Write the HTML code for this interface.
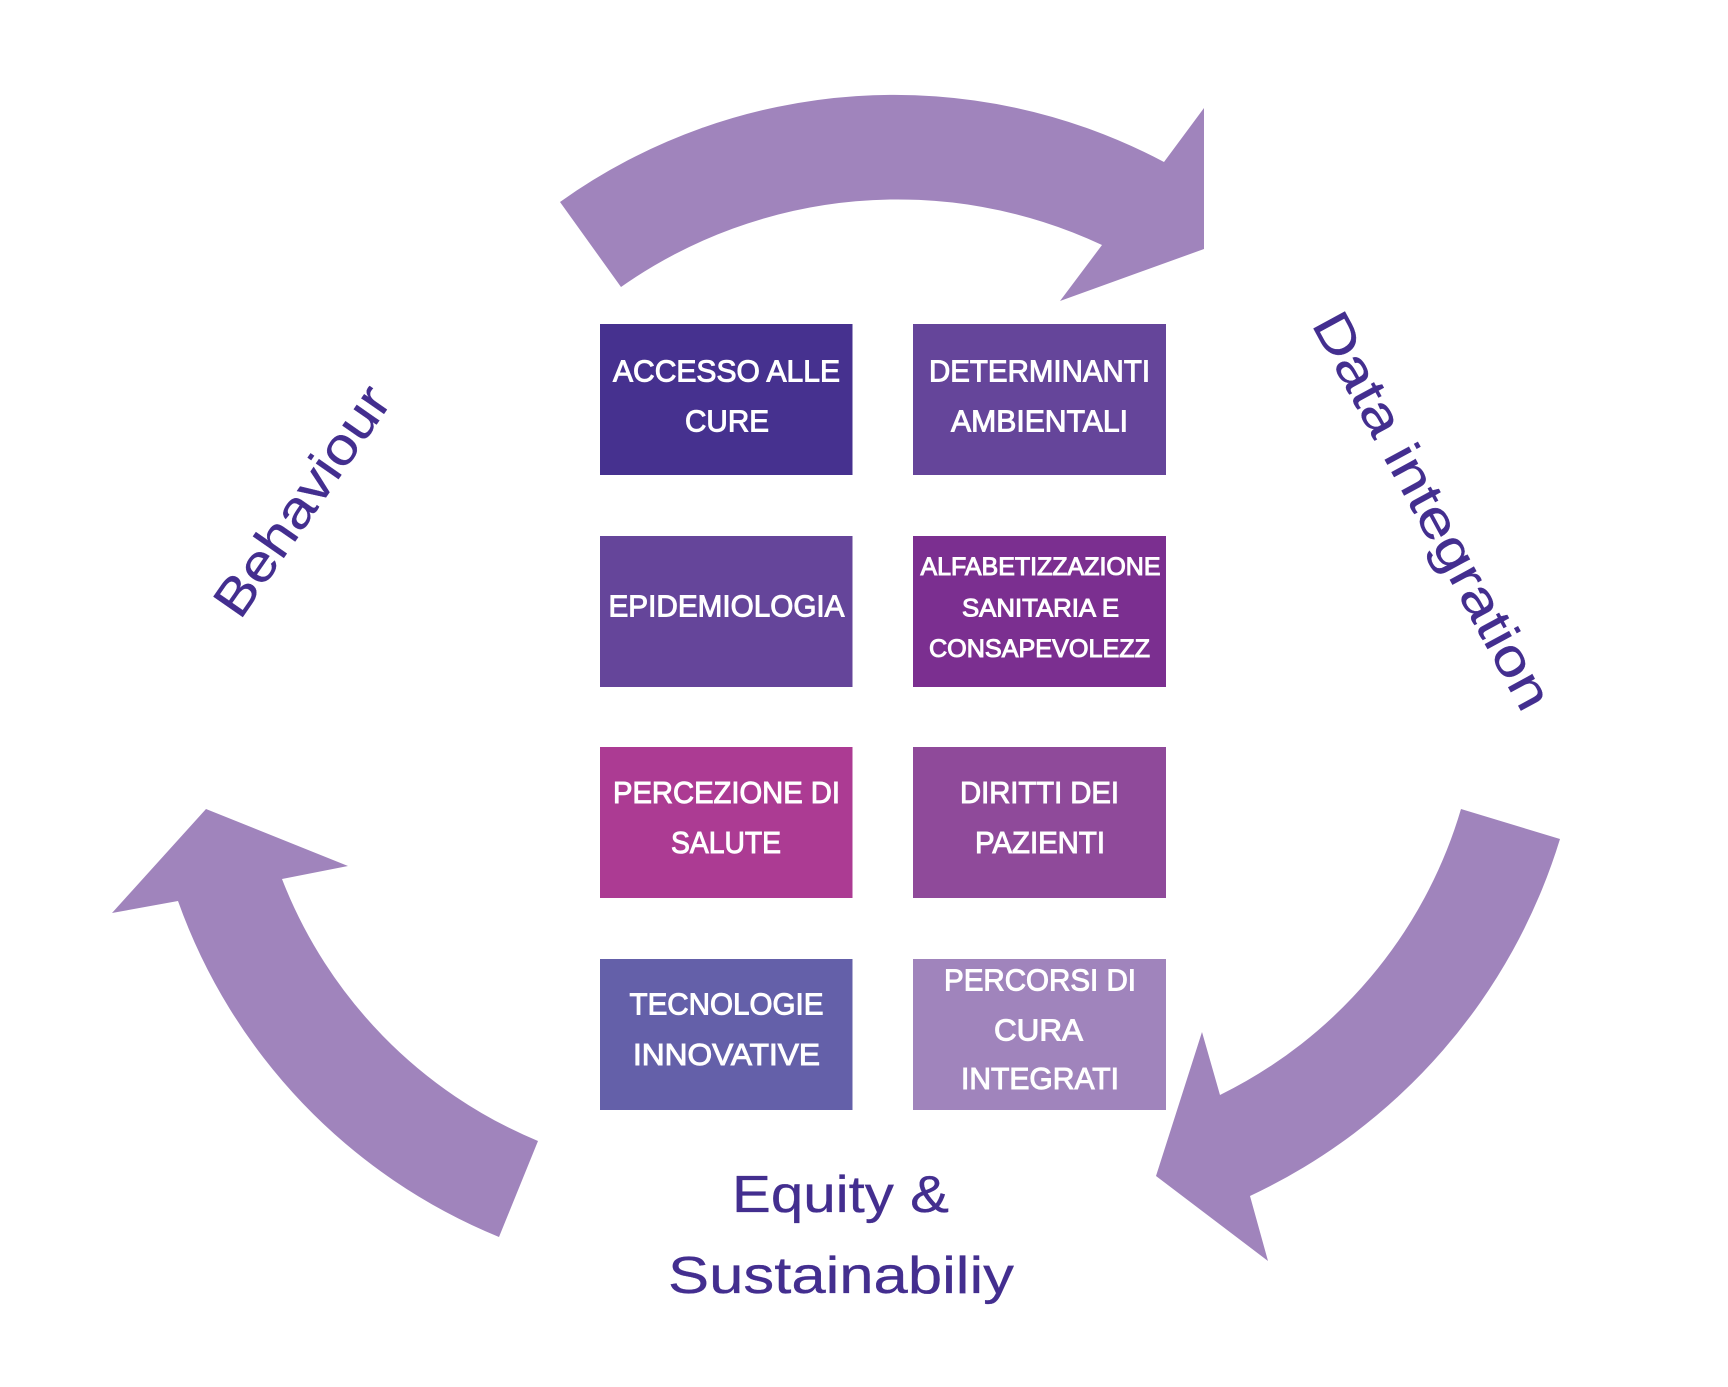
<!DOCTYPE html>
<html>
<head>
<meta charset="utf-8">
<style>
html,body{margin:0;padding:0;background:#fff;}
svg{display:block;}
.b{font-family:"Liberation Sans",sans-serif;font-size:31px;fill:#fff;stroke:#fff;stroke-width:1px;}
.s{font-size:25px;}
.l{font-family:"Liberation Sans",sans-serif;font-size:52px;fill:#432E8F;stroke:#432E8F;stroke-width:.3px;}
</style>
</head>
<body>
<svg width="1728" height="1387" viewBox="0 0 1728 1387" xmlns="http://www.w3.org/2000/svg">
<rect width="1728" height="1387" fill="#fff"/>
<g fill="#A084BC">
<path d="M560 202 A575 575 0 0 1 1164 162 L1204 108 L1204 249 L1060 301 L1102 245 A481 481 0 0 0 621 287 Z"/>
<path d="M1560 839 A582 582 0 0 1 1250 1196 L1268 1261 L1156 1176 L1202 1032 L1220 1095 A465 465 0 0 0 1461 809 Z"/>
<path d="M499 1237 A569 569 0 0 1 178 901 L112 913 L206 809 L348 866 L282 879 A466 466 0 0 0 538 1141 Z"/>
</g>
<rect x="600" y="324" width="252.500" height="151" fill="#46318F"/>
<rect x="913" y="324" width="253" height="151" fill="#65459A"/>
<rect x="600" y="536" width="252.500" height="151" fill="#65459A"/>
<rect x="913" y="536" width="253" height="151" fill="#7B2F90"/>
<rect x="600" y="747" width="252.500" height="151" fill="#AC3B93"/>
<rect x="913" y="747" width="253" height="151" fill="#8F4A9A"/>
<rect x="600" y="959" width="252.500" height="151" fill="#6460A9"/>
<rect x="913" y="959" width="253" height="151" fill="#A084BC"/>

<text class="b" x="613" y="381.500" textLength="227" lengthAdjust="spacingAndGlyphs">ACCESSO ALLE</text>
<text class="b" x="685" y="431.500" textLength="84" lengthAdjust="spacingAndGlyphs">CURE</text>
<text class="b" x="929" y="381.500" textLength="221" lengthAdjust="spacingAndGlyphs">DETERMINANTI</text>
<text class="b" x="951" y="431.500" textLength="177" lengthAdjust="spacingAndGlyphs">AMBIENTALI</text>
<text class="b" x="608.500" y="616.500" textLength="236" lengthAdjust="spacingAndGlyphs">EPIDEMIOLOGIA</text>
<text class="b s" x="920.500" y="575" textLength="240" lengthAdjust="spacingAndGlyphs">ALFABETIZZAZIONE</text>
<text class="b s" x="962" y="616.500" textLength="157" lengthAdjust="spacingAndGlyphs">SANITARIA E</text>
<text class="b s" x="929" y="657" textLength="221" lengthAdjust="spacingAndGlyphs">CONSAPEVOLEZZ</text>
<text class="b" x="613" y="803" textLength="227" lengthAdjust="spacingAndGlyphs">PERCEZIONE DI</text>
<text class="b" x="671" y="853" textLength="110" lengthAdjust="spacingAndGlyphs">SALUTE</text>
<text class="b" x="960" y="803" textLength="159" lengthAdjust="spacingAndGlyphs">DIRITTI DEI</text>
<text class="b" x="975" y="853" textLength="130" lengthAdjust="spacingAndGlyphs">PAZIENTI</text>
<text class="b" x="629.500" y="1014.500" textLength="194" lengthAdjust="spacingAndGlyphs">TECNOLOGIE</text>
<text class="b" x="633" y="1065" textLength="187" lengthAdjust="spacingAndGlyphs">INNOVATIVE</text>
<text class="b" x="944" y="990.500" textLength="192" lengthAdjust="spacingAndGlyphs">PERCORSI DI</text>
<text class="b" x="994" y="1040.500" textLength="89" lengthAdjust="spacingAndGlyphs">CURA</text>
<text class="b" x="961" y="1089" textLength="158" lengthAdjust="spacingAndGlyphs">INTEGRATI</text>

<text class="l" x="732" y="1212" textLength="217" lengthAdjust="spacingAndGlyphs">Equity &amp;</text>
<text class="l" x="668" y="1293" textLength="346" lengthAdjust="spacingAndGlyphs">Sustainabiliy</text>
<text class="l" transform="translate(1311 324) rotate(61.500)" textLength="444" lengthAdjust="spacingAndGlyphs">Data integration</text>
<text class="l" transform="translate(240 621) rotate(-55.200)" textLength="268" lengthAdjust="spacingAndGlyphs">Behaviour</text>
</svg>
</body>
</html>
